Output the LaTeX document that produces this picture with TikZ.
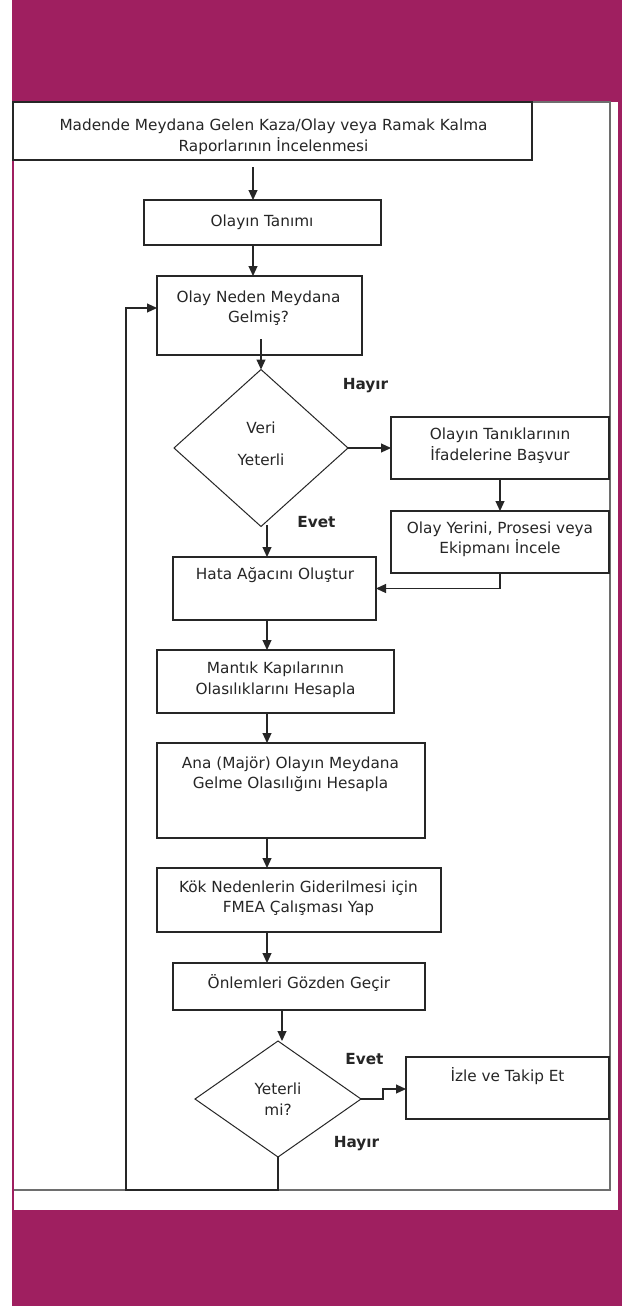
\documentclass[tikz,border=0pt]{standalone}
\usepackage{fontspec}
\setmainfont{DejaVu Sans}
\usetikzlibrary{shapes.geometric,arrows.meta,calc}
\definecolor{bandpurple}{RGB}{159,31,96}
\definecolor{inkgray}{RGB}{38,38,38}
\definecolor{framegray}{RGB}{110,110,110}
\begin{document}
\begin{tikzpicture}[x=1pt,y=-1pt,
  stepbox/.style={draw=inkgray, line width=1.1pt, rectangle, inner sep=0pt, outer sep=0pt},
  decision/.style={draw=inkgray, line width=1pt, diamond, inner sep=0pt, outer sep=0pt},
  txt/.style={font=\fontsize{15.3}{20.5}\selectfont, text=inkgray, align=center, inner sep=0pt},
  tag/.style={font=\fontsize{15.3}{20.5}\selectfont\bfseries, text=inkgray, inner sep=0pt},
  flow/.style={draw=inkgray, line width=1.1pt, -{Triangle[length=10pt,width=9pt]}},
]
\useasboundingbox (0,0) rectangle (630,1306);

% page background and purple frame
\fill[white] (0,0) rectangle (630,1306);
\fill[bandpurple] (12,0) rectangle (622,1306);
\fill[white] (14,102) rectangle (618,1210);
\draw[framegray, line width=1.6pt] (14,102) -- (610,102) -- (610,1190) -- (14,1190);

% process boxes
\node[stepbox, minimum width=519pt, minimum height=58pt] (b1) at (272.5,131) {};
\node[stepbox, minimum width=237pt, minimum height=45pt] (b2) at (262.5,222.5) {};
\node[stepbox, minimum width=205pt, minimum height=79pt] (b3) at (259.5,315.5) {};
\node[decision, minimum width=174pt, minimum height=157pt] (d1) at (261,448) {};
\node[stepbox, minimum width=218pt, minimum height=62pt] (b4) at (500,448) {};
\node[stepbox, minimum width=218pt, minimum height=62pt] (b5) at (500,542) {};
\node[stepbox, minimum width=203pt, minimum height=63pt] (hata) at (274.5,588.5) {};
\node[stepbox, minimum width=237pt, minimum height=63pt] (mantik) at (275.5,681.5) {};
\node[stepbox, minimum width=268pt, minimum height=95pt] (ana) at (291,790.5) {};
\node[stepbox, minimum width=284pt, minimum height=64pt] (kok) at (299,900) {};
\node[stepbox, minimum width=252pt, minimum height=47pt] (onl) at (299,986.5) {};
\node[decision, minimum width=166pt, minimum height=116pt] (d2) at (278,1099) {};
\node[stepbox, minimum width=203pt, minimum height=62pt] (izle) at (507.5,1088) {};

% texts
\node[txt] (t1) at (273.5,137) {Madende Meydana Gelen Kaza/Olay veya Ramak Kalma\\Raporlarının İncelenmesi};
\node[txt] (t2) at (262,222) {Olayın Tanımı};
\node[txt] (t3) at (258.5,308) {Olay Neden Meydana\\Gelmiş?};
\node[txt] (td1) at (261,444) {Veri\\[12pt]Yeterli};
\node[txt] (t4) at (500,445.5) {Olayın Tanıklarının\\İfadelerine Başvur};
\node[txt] (t5) at (500,539.5) {Olay Yerini, Prosesi veya\\Ekipmanı İncele};
\node[txt] (thata) at (275,575.5) {Hata Ağacını Oluştur};
\node[txt] (tmantik) at (275.5,680) {Mantık Kapılarının\\Olasılıklarını Hesapla};
\node[txt] (tana) at (290.5,774.5) {Ana (Majör) Olayın Meydana\\Gelme Olasılığını Hesapla};
\node[txt] (tkok) at (298.5,898.5) {Kök Nedenlerin Giderilmesi için\\FMEA Çalışması Yap};
\node[txt] (tonl) at (299,982.5) {Önlemleri Gözden Geçir};
\node[txt] (td2) at (278,1099) {Yeterli\\mi?};
\node[txt] (tizle) at (507.5,1076) {İzle ve Takip Et};

% branch labels
\node[tag] (hayir1) at (365.5,386) {Hayır};
\node[tag] (evet1) at (316.5,522) {Evet};
\node[tag] (evet2) at (364.5,1059) {Evet};
\node[tag] (hayir2) at (356.5,1144) {Hayır};

% connector helpers
\coordinate (s1) at (253,167);
\coordinate (s3) at (261,339);
\coordinate (s7) at (267,525);
\coordinate (s12) at (282,1010);
\coordinate (k13) at (383,1089);
\coordinate (fb) at (126,1190);
\coordinate (fbin) at ([yshift=7.5pt]b3.west);

% connectors
\draw[flow] (s1) -- (s1 |- b2.north);
\draw[flow] (b2.south -| s1) -- (b3.north -| s1);
\draw[flow] (s3) -- (d1.north);
\draw[flow] (d1.east) -- (b4.west);
\draw[flow] (b4.south) -- (b5.north);
\draw[flow] (b5.south) |- (hata.east);
\draw[flow] (s7) -- (s7 |- hata.north);
\draw[flow] (hata.south -| s7) -- (mantik.north -| s7);
\draw[flow] (mantik.south -| s7) -- (ana.north -| s7);
\draw[flow] (ana.south -| s7) -- (kok.north -| s7);
\draw[flow] (kok.south -| s7) -- (onl.north -| s7);
\draw[flow] (s12) -- (d2.north -| s12);
\draw[flow] (d2.east) -| (k13) -- (k13 -| izle.west);
\draw[flow] (d2.south) |- (fb) |- (fbin);
\end{tikzpicture}
\end{document}
